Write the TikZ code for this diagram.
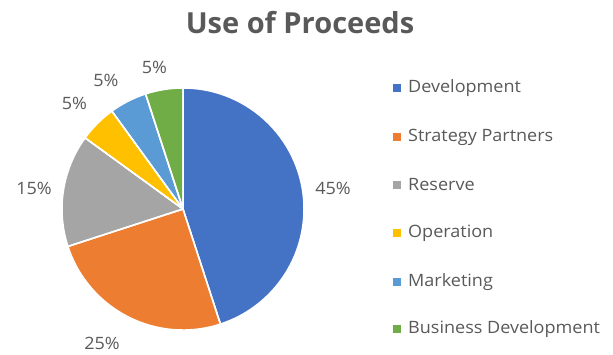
\documentclass[tikz,border=0pt]{standalone}
\usepackage{fontspec}
\setmainfont{Open Sans}
\newfontfamily\lblfont[FakeStretch=1.06]{Open Sans}
\definecolor{cDev}{HTML}{4472C4}
\definecolor{cStr}{HTML}{ED7D31}
\definecolor{cRes}{HTML}{A5A5A5}
\definecolor{cOpe}{HTML}{FFC000}
\definecolor{cMkt}{HTML}{5B9BD5}
\definecolor{cBiz}{HTML}{70AD47}
\definecolor{txt}{HTML}{595959}
\tikzset{
  wedge/.style={draw=white, line width=1.5pt, line join=round},
  pct/.style={text=txt, font=\lblfont\fontsize{17}{19}\selectfont, inner sep=0pt},
  legtext/.style={text=txt, font=\lblfont\fontsize{17}{19}\selectfont, anchor=west, inner sep=0pt},
  legkey/.style={minimum size=8pt, inner sep=0pt, draw=none},
}
\begin{document}
\begin{tikzpicture}[x=1pt,y=1pt]
\useasboundingbox (0,0) rectangle (613,354);
\coordinate (c) at (183,145);
\def\R{121}
\fill[cDev,wedge] (c) -- ++(90:\R) arc (90:-72:\R) -- cycle;
\fill[cStr,wedge] (c) -- ++(-72:\R) arc (-72:-162:\R) -- cycle;
\fill[cRes,wedge] (c) -- ++(-162:\R) arc (-162:-216:\R) -- cycle;
\fill[cOpe,wedge] (c) -- ++(-216:\R) arc (-216:-234:\R) -- cycle;
\fill[cMkt,wedge] (c) -- ++(-234:\R) arc (-234:-252:\R) -- cycle;
\fill[cBiz,wedge] (c) -- ++(-252:\R) arc (-252:-270:\R) -- cycle;
\draw[wedge] (c) -- ++(90:\R) (c) -- ++(-72:\R) (c) -- ++(-162:\R) (c) -- ++(-216:\R) (c) -- ++(-234:\R) (c) -- ++(-252:\R);
\node[text=txt, font=\fontsize{29}{32}\selectfont\bfseries] (title) at (300,331) {Use of Proceeds};
\node[pct] (p1) at (333,166) {45\%};
\node[pct] (p2) at (102,11) {25\%};
\node[pct] (p3) at (34,166) {15\%};
\node[pct] (p4) at (74.5,251) {5\%};
\node[pct] (p5) at (106,274) {5\%};
\node[pct] (p6) at (154.5,287) {5\%};
\node[legkey, fill=cDev] (k1) at (396.5,266) {};
\node[legtext] (l1) at (408,266) {Development};
\node[legkey, fill=cStr] (k2) at (396.5,217) {};
\node[legtext] (l2) at (408,217) {Strategy Partners};
\node[legkey, fill=cRes] (k3) at (396.5,169) {};
\node[legtext] (l3) at (408,169) {Reserve};
\node[legkey, fill=cOpe] (k4) at (396.5,121) {};
\node[legtext] (l4) at (408,121) {Operation};
\node[legkey, fill=cMkt] (k5) at (396.5,72) {};
\node[legtext] (l5) at (408,72) {Marketing};
\node[legkey, fill=cBiz] (k6) at (396.5,25) {};
\node[legtext] (l6) at (408,25) {Business Development};
\end{tikzpicture}
\end{document}
